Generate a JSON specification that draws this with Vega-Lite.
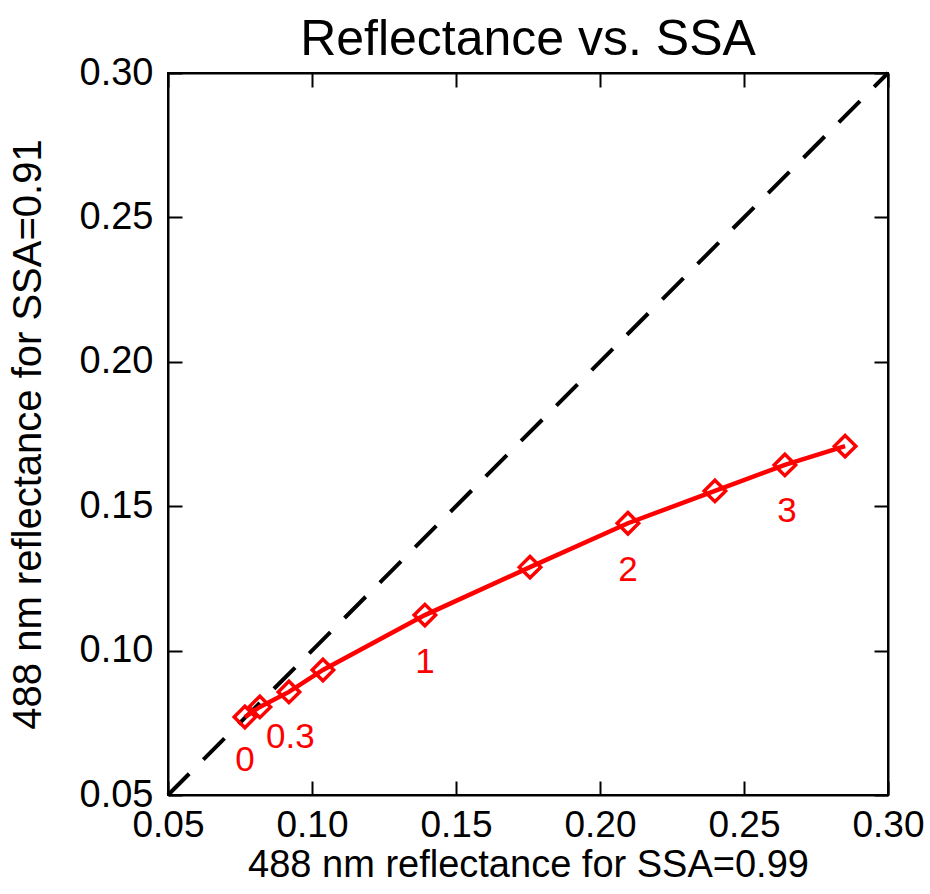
{
  "$schema": "https://vega.github.io/schema/vega-lite/v6.json",
  "autosize": {"type": "none"},
  "width": 720,
  "height": 722,
  "padding": {"left": 168, "top": 73, "right": 42, "bottom": 99},
  "background": "white",
  "config": {
    "font": "Liberation Sans",
    "view": {"stroke": "black", "strokeWidth": 2},
    "axis": {"grid": false, "domainColor": "black", "domainWidth": 2, "tickColor": "black", "tickWidth": 2, "labelColor": "black", "titleColor": "black", "labelFont": "Liberation Sans", "titleFont": "Liberation Sans", "titleFontWeight": "normal"}
  },
  "title": {"text": "Reflectance vs. SSA", "fontSize": 50, "fontWeight": "normal", "font": "Liberation Sans", "color": "black", "offset": -11, "anchor": "middle"},
  "datasets": {
    "diag": [{"x": 0.05, "y": 0.05}, {"x": 0.30, "y": 0.30}],
    "curve": [
      {"x": 0.0767, "y": 0.0770},
      {"x": 0.0819, "y": 0.0805},
      {"x": 0.0920, "y": 0.0857},
      {"x": 0.1038, "y": 0.0933},
      {"x": 0.1392, "y": 0.1123},
      {"x": 0.1757, "y": 0.1289},
      {"x": 0.2097, "y": 0.1441},
      {"x": 0.2399, "y": 0.1553},
      {"x": 0.2642, "y": 0.1643},
      {"x": 0.2851, "y": 0.1708}
    ],
    "labels": [
      {"x": 0.0767, "y": 0.0621, "label": "0"},
      {"x": 0.0925, "y": 0.0701, "label": "0.3"},
      {"x": 0.1392, "y": 0.0961, "label": "1"},
      {"x": 0.2097, "y": 0.1279, "label": "2"},
      {"x": 0.2649, "y": 0.1483, "label": "3"}
    ]
  },
  "layer": [
    {
      "data": {"name": "diag"},
      "mark": {"type": "line", "color": "black", "strokeWidth": 4, "strokeDash": [30, 20]},
      "encoding": {
        "x": {"field": "x", "type": "quantitative", "scale": {"domain": [0.05, 0.30], "nice": false, "zero": false},
              "axis": {"orient": "bottom", "values": [0.05, 0.10, 0.15, 0.20, 0.25, 0.30], "format": ".2f", "tickSize": -14, "labelFontSize": 37, "labelPadding": 26, "title": "488 nm reflectance for SSA=0.99", "titleFontSize": 38, "titlePadding": 3, "labelFlush": false}},
        "y": {"field": "y", "type": "quantitative", "scale": {"domain": [0.05, 0.30], "nice": false, "zero": false},
              "axis": {"orient": "left", "values": [0.05, 0.10, 0.15, 0.20, 0.25, 0.30], "format": ".2f", "tickSize": -14, "labelFontSize": 38, "labelPadding": 29, "title": "488 nm reflectance for SSA=0.91", "titleFontSize": 40, "titlePadding": 31, "labelFlush": false}}
      }
    },
    {
      "data": {"name": "diag"},
      "mark": {"type": "point", "opacity": 0},
      "encoding": {
        "x": {"field": "x", "type": "quantitative", "axis": {"orient": "top", "values": [0.05, 0.10, 0.15, 0.20, 0.25, 0.30], "tickSize": -14, "labels": false, "title": null}},
        "y": {"field": "y", "type": "quantitative", "axis": {"orient": "right", "values": [0.05, 0.10, 0.15, 0.20, 0.25, 0.30], "tickSize": -14, "labels": false, "title": null}}
      }
    },
    {
      "data": {"name": "curve"},
      "mark": {"type": "line", "color": "#ff0000", "strokeWidth": 4.5},
      "encoding": {
        "x": {"field": "x", "type": "quantitative", "axis": null},
        "y": {"field": "y", "type": "quantitative", "axis": null}
      }
    },
    {
      "data": {"name": "curve"},
      "mark": {"type": "point", "shape": "diamond", "filled": false, "color": "#ff0000", "strokeWidth": 3.5, "size": 460, "opacity": 1, "fill": "white", "fillOpacity": 0},
      "encoding": {
        "x": {"field": "x", "type": "quantitative", "axis": null},
        "y": {"field": "y", "type": "quantitative", "axis": null}
      }
    },
    {
      "data": {"name": "labels"},
      "mark": {"type": "text", "color": "#ff0000", "fontSize": 35, "align": "center", "baseline": "middle", "font": "Liberation Sans"},
      "encoding": {
        "x": {"field": "x", "type": "quantitative", "axis": null},
        "y": {"field": "y", "type": "quantitative", "axis": null},
        "text": {"field": "label"}
      }
    }
  ],
  "resolve": {"axis": {"x": "independent", "y": "independent"}}
}
